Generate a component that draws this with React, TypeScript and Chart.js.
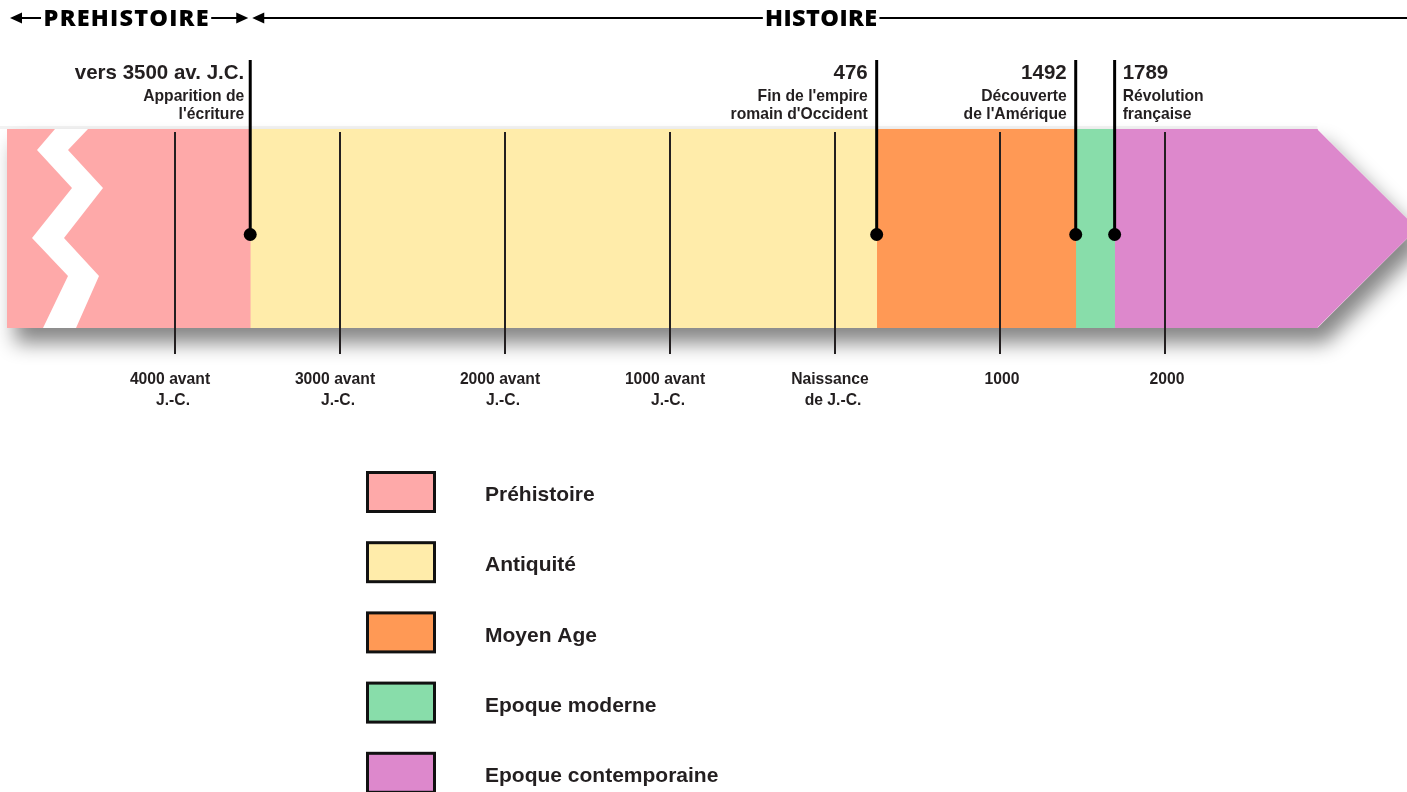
import { useEffect, useRef } from "react";
import { Chart, registerables } from "chart.js";

Chart.register(...registerables);

// ---- data ----
const periodLabels = ["Préhistoire", "Antiquité", "Moyen Age", "Epoque moderne", "Epoque contemporaine"];
const periodStart = [-5020, -3545, 254, 1461, 1697];
const periodEnd = [-3545, 254, 1461, 1697, 2927];
const periodColors = ["#FEA9A9", "#FFECAA", "#FF9955", "#88DDAA", "#DD88CC"];

const tickValues = [-4000, -3000, -2000, -1000, 0, 1000, 2000];
const tickLabels = [
  ["4000 avant", "J.-C."],
  ["3000 avant", "J.-C."],
  ["2000 avant", "J.-C."],
  ["1000 avant", "J.-C."],
  ["Naissance", "de J.-C."],
  ["1000"],
  ["2000"],
];

const eventPositions = [-3545, 254, 1461, 1697];
const eventYears = ["vers 3500 av. J.C.", "476", "1492", "1789"];
const eventTexts = [
  ["Apparition de", "l'écriture"],
  ["Fin de l'empire", "romain d'Occident"],
  ["Découverte", "de l'Amérique"],
  ["Révolution", "française"],
];
const eventSides = ["left", "left", "left", "right"];

const eraLabels = ["PREHISTOIRE", "HISTOIRE"];

const axisMin = -5020;
const axisMax = 3470;

const FONT = "'Liberation Sans', Arial, Helvetica, sans-serif";
const INK = "#231F20";

function arrowHead(ctx: CanvasRenderingContext2D, tipX: number, y: number, dir: number) {
  const len = 12;
  const half = 5.5;
  ctx.beginPath();
  ctx.moveTo(tipX, y);
  ctx.lineTo(tipX - dir * len, y - half);
  ctx.lineTo(tipX - dir * len, y + half);
  ctx.closePath();
  ctx.fill();
}

const frisePlugin = {
  id: "frise",
  beforeDatasetsDraw(chart: any) {
    const ctx: CanvasRenderingContext2D = chart.ctx;
    const first = chart.getDatasetMeta(0).data[0].getProps(["x", "y", "base", "height"], true);
    const lastIdx = chart.data.datasets.length - 1;
    const last = chart.getDatasetMeta(lastIdx).data[0].getProps(["x", "y", "base", "height"], true);
    const left = Math.min(first.x, first.base);
    const right = Math.max(last.x, last.base);
    const top = first.y - first.height / 2;
    const bottom = first.y + first.height / 2;
    const tip = right + first.height / 2;
    ctx.save();
    ctx.fillStyle = "rgba(0,0,0,0.05)";
    ctx.fillRect(0, top - 3, right, 3);
    ctx.shadowColor = "rgba(0,0,0,0.48)";
    ctx.shadowBlur = 20;
    ctx.shadowOffsetX = 8;
    ctx.shadowOffsetY = 15;
    ctx.fillStyle = "#ffffff";
    ctx.beginPath();
    ctx.moveTo(left, top);
    ctx.lineTo(right, top);
    ctx.lineTo(tip, first.y);
    ctx.lineTo(right, bottom);
    ctx.lineTo(left, bottom);
    ctx.closePath();
    ctx.fill();
    ctx.restore();
  },
  afterDatasetsDraw(chart: any) {
    const ctx: CanvasRenderingContext2D = chart.ctx;
    const xs = chart.scales.x;
    const first = chart.getDatasetMeta(0).data[0].getProps(["x", "y", "base", "height"], true);
    const lastIdx = chart.data.datasets.length - 1;
    const last = chart.getDatasetMeta(lastIdx).data[0].getProps(["x", "y", "base", "height"], true);
    const H = first.height;
    const top = first.y - H / 2;
    const bottom = first.y + H / 2;
    const L = Math.min(first.x, first.base);
    const right = Math.max(last.x, last.base);

    ctx.save();
    // arrow point
    ctx.fillStyle = chart.data.datasets[lastIdx].backgroundColor;
    ctx.beginPath();
    ctx.moveTo(right - 0.5, top);
    ctx.lineTo(right + H / 2, first.y);
    ctx.lineTo(right - 0.5, bottom);
    ctx.closePath();
    ctx.fill();

    // zigzag break
    const fy = [0, 0.105, 0.296, 0.548, 0.739, 1];
    const lx = [48, 30, 65, 25, 61, 36];
    const rx = [81, 61, 96, 57, 92, 69];
    ctx.fillStyle = "#ffffff";
    ctx.beginPath();
    for (let i = 0; i < fy.length; i++) {
      const px = L + lx[i];
      const py = top + fy[i] * H;
      if (i === 0) ctx.moveTo(px, py);
      else ctx.lineTo(px, py);
    }
    for (let i = fy.length - 1; i >= 0; i--) {
      ctx.lineTo(L + rx[i], top + fy[i] * H);
    }
    ctx.closePath();
    ctx.fill();

    // tick lines and labels
    ctx.strokeStyle = INK;
    ctx.lineWidth = 2;
    ctx.fillStyle = INK;
    ctx.font = `bold 15.7px ${FONT}`;
    ctx.textAlign = "center";
    ctx.textBaseline = "alphabetic";
    tickValues.forEach((v, i) => {
      const x = Math.round(xs.getPixelForValue(v));
      ctx.beginPath();
      ctx.moveTo(x, top + 3);
      ctx.lineTo(x, bottom + 26);
      ctx.stroke();
      const lines = tickLabels[i];
      if (lines.length > 1) {
        ctx.fillText(lines[0], x - 5, bottom + 56);
        ctx.fillText(lines[1], x - 2, bottom + 77);
      } else {
        ctx.fillText(lines[0], x + 2, bottom + 56);
      }
    });

    // events
    eventPositions.forEach((v, i) => {
      const x = xs.getPixelForValue(v);
      ctx.strokeStyle = "#000";
      ctx.lineWidth = 3;
      ctx.beginPath();
      ctx.moveTo(x, 60);
      ctx.lineTo(x, first.y + 6);
      ctx.stroke();
      ctx.fillStyle = "#000";
      ctx.beginPath();
      ctx.arc(x, first.y + 6, 6.5, 0, Math.PI * 2);
      ctx.fill();
      const leftSide = eventSides[i] === "left";
      const gap = i === 0 ? 6 : 9;
      const tx = leftSide ? x - gap : x + gap - 1;
      ctx.textAlign = leftSide ? "right" : "left";
      ctx.fillStyle = INK;
      ctx.font = `bold 20.5px ${FONT}`;
      ctx.fillText(eventYears[i], tx, 78.5);
      ctx.font = `bold 15.7px ${FONT}`;
      ctx.fillText(eventTexts[i][0], tx, 101);
      ctx.fillText(eventTexts[i][1], tx, 118.5);
    });

    // era header
    const bx = xs.getPixelForValue(periodStart[1]);
    const hy = 18;
    const W = chart.width;
    ctx.fillStyle = "#000";
    ctx.strokeStyle = "#000";
    ctx.lineWidth = 2;
    ctx.font = `800 23.5px 'Open Sans', 'Noto Sans', sans-serif`;
    ctx.textAlign = "center";
    ctx.textBaseline = "middle";
    const spacings = [1.2, 0.4];
    const spans = [
      [L + 3, bx - 2],
      [bx + 2, W],
    ];
    spans.forEach((s, i) => {
      (ctx as any).letterSpacing = `${spacings[i]}px`;
      const [a, b] = s;
      const cx = (a + b) / 2 - (i === 0 ? 3 : 8.5);
      const tw = ctx.measureText(eraLabels[i]).width;
      const t0 = cx - tw / 2 - 2;
      const t1 = cx + tw / 2 + 2;
      ctx.beginPath();
      ctx.moveTo(a + 4, hy);
      ctx.lineTo(t0, hy);
      ctx.moveTo(t1, hy);
      ctx.lineTo(i === 0 ? b - 4 : b, hy);
      ctx.stroke();
      arrowHead(ctx, a, hy, -1);
      if (i === 0) arrowHead(ctx, b, hy, 1);
      ctx.fillText(eraLabels[i], cx + spacings[i] / 2, hy + 1.5);
    });
    (ctx as any).letterSpacing = "0px";

    // legend
    ctx.textAlign = "left";
    ctx.textBaseline = "middle";
    ctx.font = `bold 21px ${FONT}`;
    chart.data.datasets.forEach((ds: any, i: number) => {
      const y0 = 472.5 + i * 70.2;
      ctx.fillStyle = ds.backgroundColor;
      ctx.fillRect(367.5, y0, 67, 39);
      ctx.strokeStyle = "#111";
      ctx.lineWidth = 3;
      ctx.strokeRect(367.5, y0, 67, 39);
      ctx.fillStyle = INK;
      ctx.fillText(ds.label, 485, y0 + 23);
    });
    ctx.restore();
  },
};

export default function App() {
  const ref = useRef<HTMLCanvasElement>(null);
  useEffect(() => {
    document.body.style.margin = "0";
    if (!ref.current) return;
    const chart = new Chart(ref.current, {
      type: "bar",
      data: {
        labels: ["Frise"],
        datasets: periodLabels.map((l, i) => ({
          label: l,
          data: [[periodStart[i], periodEnd[i]]],
          backgroundColor: periodColors[i],
          borderWidth: 0,
          borderSkipped: false,
          grouped: false,
          barPercentage: 1,
          categoryPercentage: 1,
        })) as any,
      },
      options: {
        indexAxis: "y",
        responsive: false,
        animation: false,
        devicePixelRatio: 1,
        layout: { padding: { left: 7, right: 0, top: 129, bottom: 464 } },
        scales: {
          x: { type: "linear", min: axisMin, max: axisMax, display: false },
          y: { display: false },
        },
        plugins: { legend: { display: false }, tooltip: { enabled: false } },
      } as any,
      plugins: [frisePlugin],
    });
    return () => chart.destroy();
  }, []);
  return (
    <div style={{ width: 1407, height: 792, background: "#fff" }}>
      <canvas ref={ref} width={1407} height={792} style={{ display: "block" }} />
    </div>
  );
}
